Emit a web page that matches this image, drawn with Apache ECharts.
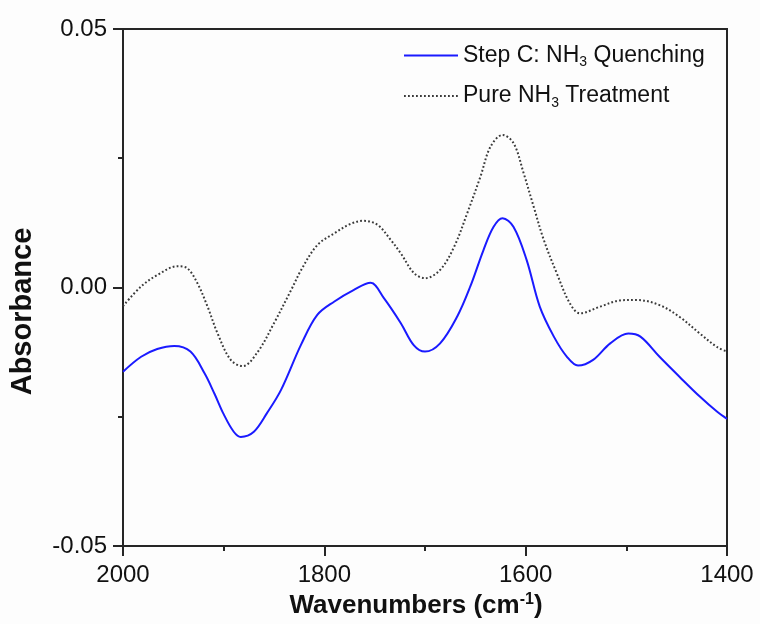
<!DOCTYPE html>
<html>
<head>
<meta charset="utf-8">
<script src="https://cdn.jsdelivr.net/npm/echarts@6/dist/echarts.min.js"></script>
<style>
  html, body { margin: 0; padding: 0; background: #fdfdfd; }
  #chart { width: 760px; height: 624px; }
</style>
</head>
<body>
<div id="chart"></div>
<script>
// IR difference spectra, wavenumber (cm-1) vs absorbance
const seriesNames = ['Step C: NH3 Quenching', 'Pure NH3 Treatment'];
const legendLabels = ['Step C: NH{sub|3} Quenching', 'Pure NH{sub|3} Treatment'];

const quenchWn = [2000, 1982, 1966, 1949, 1933, 1919, 1909, 1900, 1890, 1883, 1870, 1857, 1843, 1823, 1807, 1790, 1771, 1754, 1741, 1724, 1711, 1700, 1685, 1668, 1655, 1642, 1632, 1623, 1612, 1599, 1586, 1572, 1559, 1548, 1533, 1516, 1498, 1486, 1467, 1447, 1427, 1410, 1400];
const quenchAbs = [-0.0163, -0.0134, -0.0119, -0.0113, -0.0124, -0.0166, -0.0206, -0.0245, -0.0279, -0.0289, -0.0279, -0.0243, -0.0198, -0.0110, -0.0053, -0.0027, -0.0005, 0.0009, -0.0020, -0.0069, -0.0112, -0.0124, -0.0108, -0.0056, 0.0002, 0.0072, 0.0117, 0.0134, 0.0117, 0.0053, -0.0037, -0.0095, -0.0134, -0.0151, -0.0140, -0.0108, -0.0089, -0.0095, -0.0134, -0.0173, -0.0211, -0.0240, -0.0254];

const pureWn = [2000, 1982, 1966, 1946, 1936, 1926, 1916, 1906, 1893, 1881, 1866, 1850, 1833, 1823, 1807, 1790, 1774, 1761, 1747, 1734, 1724, 1711, 1700, 1685, 1671, 1658, 1645, 1635, 1623, 1612, 1602, 1592, 1582, 1569, 1556, 1546, 1526, 1506, 1490, 1467, 1447, 1427, 1410, 1400];
const pureAbs = [-0.0036, 0.0002, 0.0024, 0.0041, 0.0037, 0.0008, -0.0037, -0.0089, -0.0140, -0.0152, -0.0124, -0.0069, -0.0005, 0.0034, 0.0082, 0.0105, 0.0123, 0.0129, 0.0121, 0.0092, 0.0066, 0.0028, 0.0018, 0.0034, 0.0079, 0.0144, 0.0214, 0.0272, 0.0295, 0.0279, 0.0221, 0.0156, 0.0092, 0.0027, -0.0031, -0.0050, -0.0037, -0.0025, -0.0024, -0.0034, -0.0057, -0.0089, -0.0115, -0.0124];

const xTicks = { min: 1400, max: 2000, step: 200 };
const yTicks = { min: -0.05, max: 0.05, step: 0.05 };

const pair = (xs, ys) => xs.map((x, i) => [x, ys[i]]);

const chart = echarts.init(document.getElementById('chart'));
const font = 'Liberation Sans, Arial, sans-serif';
const ink = '#111';
const axisColor = '#262626';

chart.setOption({
  backgroundColor: '#fdfdfd',
  animation: false,
  grid: {
    left: 122, right: 33, top: 29, bottom: 78,
    show: true, borderColor: axisColor, borderWidth: 2, backgroundColor: 'transparent'
  },
  legend: {
    top: 39, left: 398,
    orient: 'vertical',
    itemWidth: 54, itemHeight: 14, itemGap: 15,
    data: seriesNames,
    itemStyle: { opacity: 0 },
    formatter: name => legendLabels[seriesNames.indexOf(name)],
    textStyle: {
      fontFamily: font, fontSize: 23, color: ink,
      rich: { sub: { fontSize: 14, verticalAlign: 'bottom', padding: [14, 0, 0, 0], fontFamily: font, color: ink } }
    }
  },
  xAxis: {
    type: 'value', inverse: true,
    min: xTicks.min, max: xTicks.max, interval: xTicks.step,
    name: 'Wavenumbers (cm{sup|-1})',
    nameLocation: 'middle', nameGap: 44,
    nameTextStyle: {
      fontFamily: font, fontSize: 26, fontWeight: 'bold', color: ink,
      padding: [0, 18, 0, 0],
      rich: { sup: { fontSize: 16, fontWeight: 'bold', verticalAlign: 'top', padding: [0, 0, 12, 0], fontFamily: font, color: ink } }
    },
    axisLine: { show: true, onZero: false, lineStyle: { color: axisColor, width: 2 } },
    axisTick: { show: true, inside: false, length: 10, lineStyle: { color: axisColor, width: 2 } },
    minorTick: { show: true, splitNumber: 2, length: 5, lineStyle: { color: axisColor, width: 2 } },
    axisLabel: { fontFamily: font, fontSize: 24, color: ink, margin: 17, formatter: v => String(v) },
    splitLine: { show: false }
  },
  yAxis: {
    type: 'value',
    min: yTicks.min, max: yTicks.max, interval: yTicks.step,
    name: 'Absorbance',
    nameLocation: 'middle', nameGap: 86,
    nameTextStyle: { fontFamily: font, fontSize: 29, fontWeight: 'bold', color: ink, padding: [0, 48, 0, 0] },
    axisLine: { show: true, lineStyle: { color: axisColor, width: 2 } },
    axisTick: { show: true, inside: false, length: 10, lineStyle: { color: axisColor, width: 2 } },
    minorTick: { show: true, splitNumber: 2, length: 5, lineStyle: { color: axisColor, width: 2 } },
    axisLabel: { fontFamily: font, fontSize: 24, color: ink, margin: 16, formatter: v => v.toFixed(2) },
    splitLine: { show: false }
  },
  series: [
    {
      name: seriesNames[0], type: 'line', data: pair(quenchWn, quenchAbs),
      smooth: 0.35, symbol: 'none',
      lineStyle: { color: '#1a1aff', width: 2 }, itemStyle: { color: '#1a1aff' }
    },
    {
      name: seriesNames[1], type: 'line', data: pair(pureWn, pureAbs),
      smooth: 0.35, symbol: 'none',
      lineStyle: { color: '#3a3a3a', width: 2, type: [1.8, 2.2] }, itemStyle: { color: '#3a3a3a' }
    }
  ]
});
</script>
</body>
</html>
